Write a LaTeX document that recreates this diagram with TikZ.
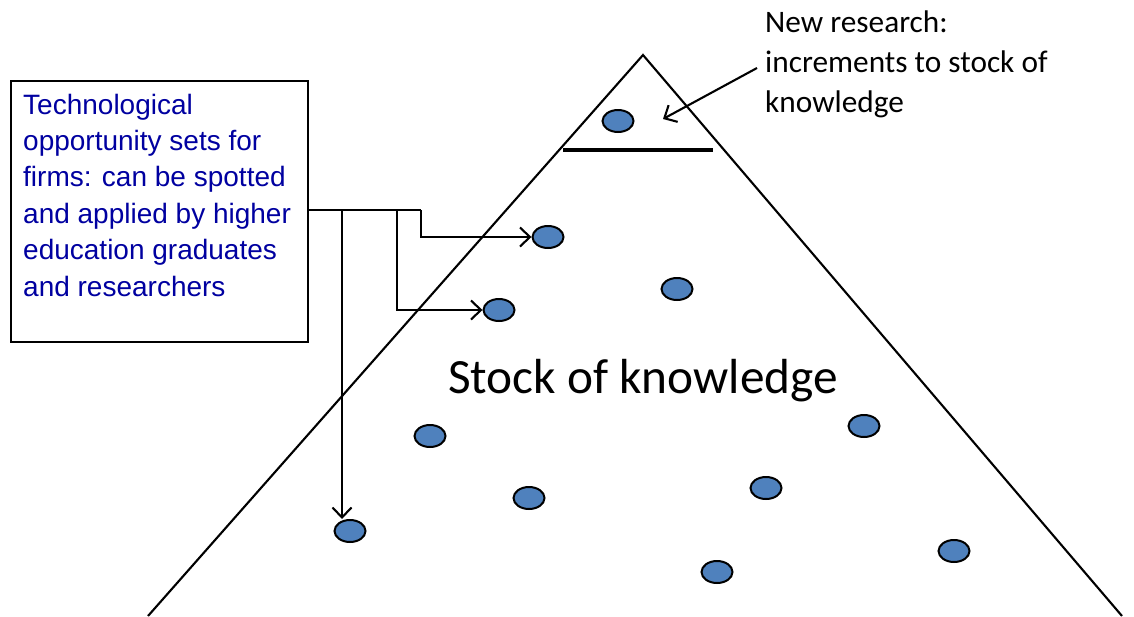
\documentclass[tikz,border=0pt]{standalone}
\usepackage{fontspec}
\setmainfont{Carlito}
\newfontfamily\arialfont{Liberation Sans}
\usetikzlibrary{arrows.meta,shapes.geometric}
\definecolor{dotblue}{RGB}{79,129,189}
\definecolor{textblue}{RGB}{0,0,160}
\tikzset{
  dot/.style={ellipse,draw=black,line width=2pt,fill=dotblue,minimum width=31pt,minimum height=22pt,inner sep=0pt},
  conn/.style={line width=2.1pt,-{Straight Barb[length=10pt,width=19pt,line width=2.1pt]}},
  plain/.style={line width=2.1pt}
}
\begin{document}
\begin{tikzpicture}[x=1pt,y=-1pt]
\useasboundingbox (0,0) rectangle (1134,616);
% triangle
\coordinate (apex) at (643,55);
\coordinate (bl) at (148,616);
\coordinate (br) at (1122,616);
\draw[plain] (bl) -- (apex) -- (br);
\coordinate (hl) at (563,150);
\coordinate (hr) at (713,150);
\draw[line width=3.2pt] (hl) -- (hr);
% dots
\node[dot] (d1) at (618,121) {};
\node[dot] (d2) at (548,237) {};
\node[dot] (d3) at (499,310) {};
\node[dot] (d4) at (677,289) {};
\node[dot] (d5) at (430,436) {};
\node[dot] (d6) at (529,498) {};
\node[dot] (d7) at (350,531) {};
\node[dot] (d8) at (864,426) {};
\node[dot] (d9) at (766,488) {};
\node[dot] (d10) at (717,572) {};
\node[dot] (d11) at (954,551) {};
% box
\node[draw=black,line width=2.1pt,minimum width=297pt,minimum height=261pt,anchor=north west,inner sep=0pt] (box) at (10,80) {};
\node[anchor=base west,align=left,inner sep=0pt,text=textblue,font=\arialfont\fontsize{28}{36.4}\selectfont] (boxtext) at (23,296) {Technological\\opportunity sets for\\firms: can be spotted\\and applied by higher\\education graduates\\and researchers};
% connectors
\coordinate (jA) at (342,210);
\coordinate (jB) at (397,210);
\coordinate (jC) at (421,210);
\draw[plain] (box.east |- jA) -- (jC);
\draw[conn] (jC) |- (d2.west);
\draw[conn] (jB) |- (d3.west);
\draw[conn] (jA) -- (jA |- d7.north);
% labels
\node[anchor=base west,align=left,inner sep=0pt,font=\fontsize{31.3}{40}\selectfont] (newres) at (765,112) {New research:\\increments to stock of\\knowledge};
\coordinate (tip) at (663,119);
\coordinate (ns) at (757,68);
\draw[conn] (ns) -- (tip);
\node[anchor=base west,inner sep=0pt,font=\fontsize{49.3}{56}\selectfont] (stock) at (448,393) {Stock of knowledge};
\end{tikzpicture}
\end{document}
